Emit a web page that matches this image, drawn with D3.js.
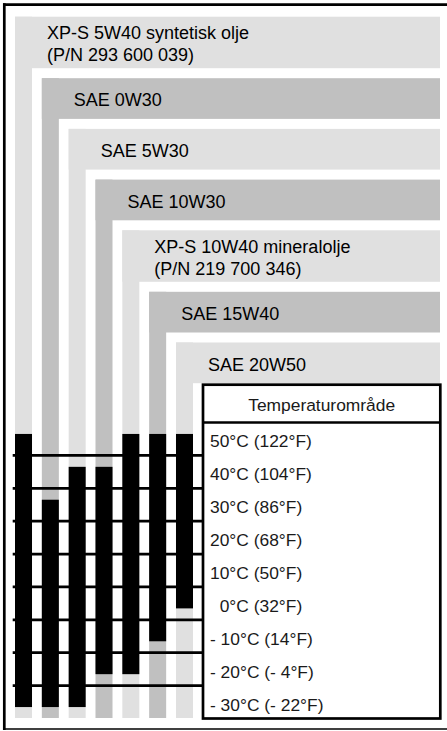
<!DOCTYPE html>
<html>
<head>
<meta charset="utf-8">
<script src="https://cdn.jsdelivr.net/npm/d3@7"></script>
<style>
  html, body { margin: 0; padding: 0; background: #fff; }
  svg { display: block; }
  text { font-family: "Liberation Sans", Arial, sans-serif; }
</style>
</head>
<body>
<svg id="chart" width="447" height="731"></svg>
<script>
// Oil grades and the ambient temperature range (°C) each one covers
const oilNames = ["XP-S 5W40 syntetisk olje", "SAE 0W30", "SAE 5W30", "SAE 10W30",
                  "XP-S 10W40 mineralolje", "SAE 15W40", "SAE 20W50"];
const oilPartNumbers = ["(P/N 293 600 039)", "", "", "", "(P/N 219 700 346)", "", ""];
const maxTempC = [50, 30, 40, 40, 50, 50, 50];
const minTempC = [-30, -30, -30, -20, -20, -10, 0];

// Temperature rows of the table
const tempTicksC = [50, 40, 30, 20, 10, 0, -10, -20, -30];
const tempLabels = ["50°C (122°F)", "40°C (104°F)", "30°C (86°F)", "20°C (68°F)",
                    "10°C (50°F)", "\u00a0\u00a00°C (32°F)", "- 10°C (14°F)",
                    "- 20°C (- 4°F)", "- 30°C (- 22°F)"];
const headerLabel = "Temperaturområde";

const svg = d3.select("#chart");
const LIGHT = "#e0e0e0", DARK = "#c0c0c0";

// Layout
const bandRight = 440;
const stripBottom = 718;
const singleH = 40.7, doubleH = 51.5, bandGap = 10, firstTop = 16.7;
const box = { x0: 203, x1: 440.3, top: 384.7, headerBottom: 422.5, bottom: 718.5 };

// Column positions of the vertical strips
const x = d3.scaleBand()
  .domain(d3.range(oilNames.length))
  .range([15, 193])
  .paddingInner(0.366)
  .paddingOuter(0);

// Temperature scale: each 10°C row spans from t+5 to t-5
const y = d3.scaleLinear()
  .domain([55, -35])
  .range([box.headerBottom, box.bottom]);

// Band tops stacked from the top
const bands = [];
let bandTop = firstTop;
oilNames.forEach((name, i) => {
  const two = oilPartNumbers[i] !== "";
  const h = two ? doubleH : singleH;
  bands.push({ i, name, pn: oilPartNumbers[i], top: bandTop, h, two,
               fill: i % 2 === 0 ? LIGHT : DARK });
  bandTop += h + bandGap;
});

// L-shaped grey bands: heading bar plus descending strip
const g = svg.append("g");
bands.forEach(b => {
  g.append("rect")
    .attr("x", x(b.i)).attr("y", b.top)
    .attr("width", bandRight - x(b.i)).attr("height", b.h)
    .attr("fill", b.fill);
  g.append("rect")
    .attr("x", x(b.i)).attr("y", b.top)
    .attr("width", x.bandwidth()).attr("height", stripBottom - b.top)
    .attr("fill", b.fill);
  const tx = x(b.i) + 32;
  const label = g.append("text").attr("font-size", 18).attr("fill", "#000");
  if (b.two) {
    label.attr("x", tx).attr("y", b.top + 22.3).text(b.name);
    g.append("text").attr("x", tx).attr("y", b.top + 44.5)
      .attr("font-size", 18).attr("fill", "#000").text(b.pn);
  } else {
    label.attr("x", tx).attr("y", b.top + 28).text(b.name);
  }
});

// Black bars: usable temperature range of each oil
const pad = 5;
svg.append("g").selectAll("rect")
  .data(d3.range(oilNames.length))
  .join("rect")
  .attr("x", i => x(i))
  .attr("width", x.bandwidth())
  .attr("y", i => y(maxTempC[i]) - pad)
  .attr("height", i => y(minTempC[i]) - y(maxTempC[i]) + 2 * pad)
  .attr("fill", "#000");

// Row separators running across the strips
svg.append("g").selectAll("line")
  .data(tempTicksC.slice(0, -1))
  .join("line")
  .attr("x1", 12.7).attr("x2", box.x0)
  .attr("y1", t => y(t - 5)).attr("y2", t => y(t - 5))
  .attr("stroke", "#000").attr("stroke-width", 2.7);

// Table box
svg.append("rect")
  .attr("x", box.x0).attr("y", box.top)
  .attr("width", box.x1 - box.x0).attr("height", box.bottom - box.top)
  .attr("fill", "#fff").attr("stroke", "#000").attr("stroke-width", 2.7);
svg.append("line")
  .attr("x1", box.x0).attr("x2", box.x1)
  .attr("y1", box.headerBottom).attr("y2", box.headerBottom)
  .attr("stroke", "#000").attr("stroke-width", 2.7);

svg.append("text")
  .attr("x", (box.x0 + box.x1) / 2).attr("y", box.top + 26.5)
  .attr("text-anchor", "middle").attr("font-size", 17.4).attr("fill", "#1a1a1a")
  .text(headerLabel);

svg.append("g").selectAll("text")
  .data(tempTicksC)
  .join("text")
  .attr("x", 210)
  .attr("y", t => y(t) + 8.5)
  .attr("font-size", 17.4).attr("fill", "#1a1a1a")
  .text((t, i) => tempLabels[i]);

// Outer frame (left, top, bottom)
svg.append("line").attr("x1", 4.3).attr("x2", 4.3).attr("y1", 3.3).attr("y2", 730)
  .attr("stroke", "#000").attr("stroke-width", 2.7);
svg.append("line").attr("x1", 3).attr("x2", 447).attr("y1", 4.6).attr("y2", 4.6)
  .attr("stroke", "#000").attr("stroke-width", 2.7);
svg.append("line").attr("x1", 3).attr("x2", 447).attr("y1", 729).attr("y2", 729)
  .attr("stroke", "#000").attr("stroke-width", 1.6);
</script>
</body>
</html>
